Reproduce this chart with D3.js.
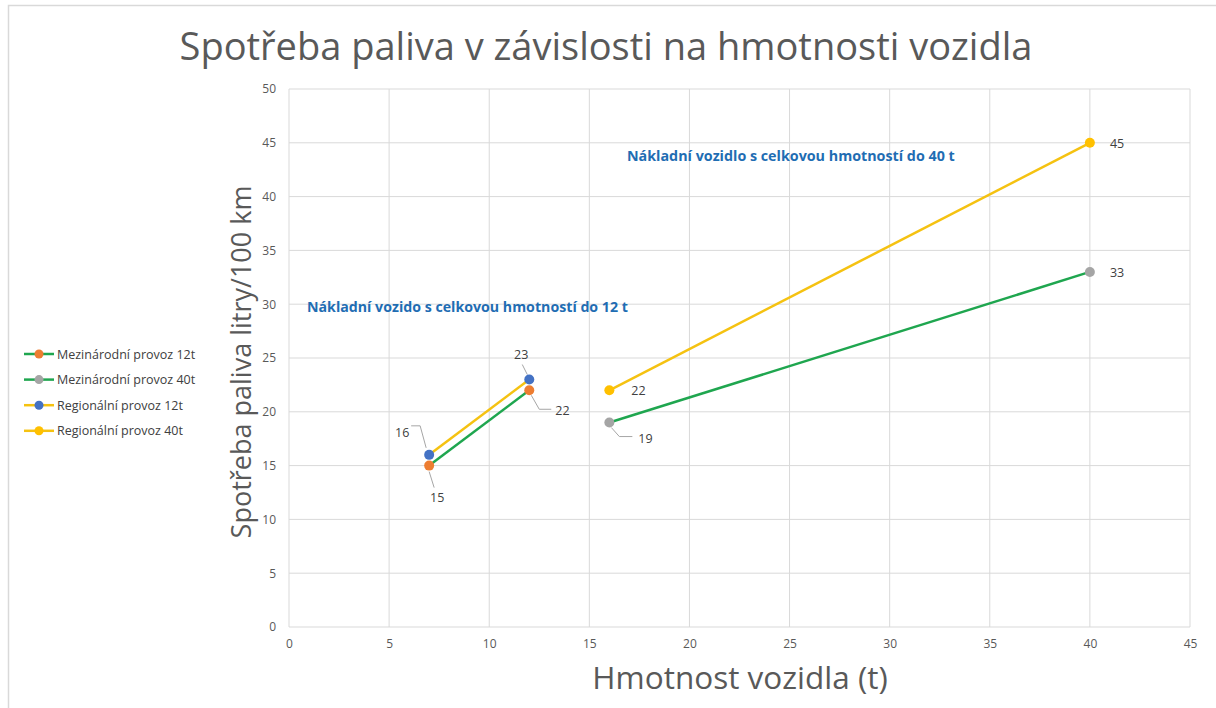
<!DOCTYPE html>
<html>
<head>
<meta charset="utf-8">
<script src="https://cdn.jsdelivr.net/npm/d3@7"></script>
<style>
  body { margin: 0; background: #fff; }
  text { font-family: "Open Sans", "Noto Sans", sans-serif; }
</style>
</head>
<body>
<svg id="chart" width="1216" height="708"></svg>
<script>
// data
var seriesNames = ["Mezinárodní provoz 12t", "Mezinárodní provoz 40t", "Regionální provoz 12t", "Regionální provoz 40t"];
var lineColors = ["#1fa64f", "#1fa64f", "#f5c211", "#f5c211"];
var markerColors = ["#ed7d31", "#a5a5a5", "#4472c4", "#ffc000"];
var xMez12 = [7, 12], yMez12 = [15, 22];
var xMez40 = [16, 40], yMez40 = [19, 33];
var xReg12 = [7, 12], yReg12 = [16, 23];
var xReg40 = [16, 40], yReg40 = [22, 45];
var xTicks = [0, 5, 10, 15, 20, 25, 30, 35, 40, 45];
var yTicks = [0, 5, 10, 15, 20, 25, 30, 35, 40, 45, 50];

var series = [
  { name: seriesNames[0], xs: xMez12, ys: yMez12 },
  { name: seriesNames[1], xs: xMez40, ys: yMez40 },
  { name: seriesNames[2], xs: xReg12, ys: yReg12 },
  { name: seriesNames[3], xs: xReg40, ys: yReg40 }
];

var svg = d3.select('#chart');

// outer frame
svg.append('rect').attr('x', 8.5).attr('y', 5.5).attr('width', 1240).attr('height', 740)
  .style('fill', 'none').style('stroke', '#d9d9d9').style('stroke-width', 1.5);

var x = d3.scaleLinear().domain([0, 45]).range([289, 1190]);
var y = d3.scaleLinear().domain([0, 50]).range([627, 89]);

// grid
svg.append('g').selectAll('line').data(xTicks).enter().append('line')
  .attr('x1', d => x(d)).attr('x2', d => x(d)).attr('y1', y(0)).attr('y2', y(50))
  .style('stroke', '#d9d9d9').style('stroke-width', 1);
svg.append('g').selectAll('line').data(yTicks).enter().append('line')
  .attr('x1', x(0)).attr('x2', x(45)).attr('y1', d => y(d)).attr('y2', d => y(d))
  .style('stroke', '#d9d9d9').style('stroke-width', 1);

// axes (labels only, lines are the grid)
var xAxis = svg.append('g').attr('transform', 'translate(0,' + y(0) + ')')
  .call(d3.axisBottom(x).tickValues(xTicks).tickSize(0).tickPadding(12));
var yAxis = svg.append('g').attr('transform', 'translate(' + x(0) + ',0)')
  .call(d3.axisLeft(y).tickValues(yTicks).tickSize(0).tickPadding(13));
[xAxis, yAxis].forEach(function (a) {
  a.select('.domain').remove();
  a.selectAll('text').style('font-size', '12px').style('fill', '#595959')
    .style('font-family', '"Open Sans", sans-serif');
});

// title + axis titles
svg.append('text').attr('x', 606).attr('y', 60).attr('text-anchor', 'middle')
  .style('font-size', '38px').style('fill', '#595959').text('Spotřeba paliva v závislosti na hmotnosti vozidla');
svg.append('text').attr('transform', 'translate(251,362) rotate(-90)').attr('text-anchor', 'middle')
  .style('font-size', '27px').style('fill', '#595959').text('Spotřeba paliva litry/100 km');
svg.append('text').attr('x', 740).attr('y', 689).attr('text-anchor', 'middle')
  .style('font-size', '31.5px').style('fill', '#595959').text('Hmotnost vozidla (t)');

// annotations
svg.append('text').attr('x', 307).attr('y', 312)
  .style('font-size', '14.2px').style('font-weight', 'bold').style('fill', '#1f6db3')
  .text('Nákladní vozido s celkovou hmotností do 12 t');
svg.append('text').attr('x', 627).attr('y', 161)
  .style('font-size', '14.3px').style('font-weight', 'bold').style('fill', '#1f6db3')
  .text('Nákladní vozidlo s celkovou hmotností do 40 t');

// lines
var line = d3.line().x(d => x(d[0])).y(d => y(d[1]));
series.forEach(function (s, i) {
  var pts = s.xs.map((v, j) => [v, s.ys[j]]);
  svg.append('path').datum(pts).attr('d', line)
    .style('fill', 'none').style('stroke', lineColors[i]).style('stroke-width', 2.5);
});

// leader lines for some labels: point + offsets
var leaders = [
  { sx: 7, sy: 15, pts: [[0, 6], [5, 22]] },
  { sx: 7, sy: 16, pts: [[-3, -7], [-9, -29], [-18, -29]] },
  { sx: 12, sy: 23, pts: [[-2, -5], [-7, -15]] },
  { sx: 12, sy: 22, pts: [[2, 5], [10, 19], [22, 19]] },
  { sx: 16, sy: 19, pts: [[2, 5], [10, 14], [23, 14]] }
];
leaders.forEach(function (l) {
  var px = x(l.sx), py = y(l.sy);
  svg.append('path')
    .attr('d', 'M' + l.pts.map(p => (px + p[0]) + ',' + (py + p[1])).join('L'))
    .style('fill', 'none').style('stroke', '#a6a6a6').style('stroke-width', 1);
});

// markers
series.forEach(function (s, i) {
  svg.append('g').selectAll('circle').data(s.xs).enter().append('circle')
    .attr('cx', d => x(d)).attr('cy', (d, j) => y(s.ys[j])).attr('r', 5)
    .style('fill', markerColors[i]);
});

// data labels: offsets from point
var labelOffsets = [
  [[8, 36], [26, 25]],
  [[29, 20], [20, 5]],
  [[-27, -18], [-8, -21]],
  [[22, 5], [20, 5]]
];
var labelAnchors = [['middle', 'start'], ['start', 'start'], ['middle', 'middle'], ['start', 'start']];
series.forEach(function (s, i) {
  s.xs.forEach(function (v, j) {
    svg.append('text')
      .attr('x', x(v) + labelOffsets[i][j][0]).attr('y', y(s.ys[j]) + labelOffsets[i][j][1])
      .attr('text-anchor', labelAnchors[i][j])
      .style('font-size', '12.5px').style('fill', '#404040').text(s.ys[j]);
  });
});

// legend
var legend = svg.append('g');
seriesNames.forEach(function (n, i) {
  var ly = 354 + i * 25.6;
  legend.append('line').attr('x1', 24).attr('x2', 54).attr('y1', ly).attr('y2', ly)
    .style('stroke', lineColors[i]).style('stroke-width', 2.5);
  legend.append('circle').attr('cx', 39).attr('cy', ly).attr('r', 4.5).style('fill', markerColors[i]);
  legend.append('text').attr('x', 57).attr('y', ly + 4.5)
    .style('font-size', '12.5px').style('fill', '#404040').text(n);
});
</script>
</body>
</html>
